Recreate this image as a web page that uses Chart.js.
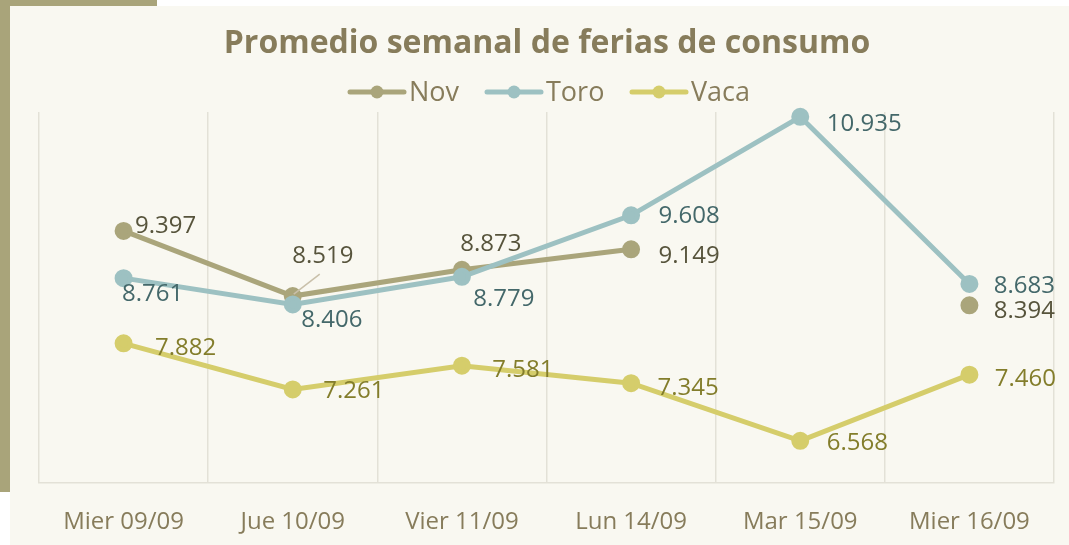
<!DOCTYPE html>
<html>
<head>
<meta charset="utf-8">
<script src="https://cdn.jsdelivr.net/npm/chart.js@4.4.0/dist/chart.umd.min.js"></script>
<style>
  html, body { margin: 0; padding: 0; background: #ffffff; }
  #wrap { position: relative; width: 1069px; height: 545px; }
</style>
</head>
<body>
<div id="wrap"><canvas id="myLineGraph" width="1069" height="545"></canvas></div>
<script>
// chart data
var categories = ["Mier 09/09", "Jue 10/09", "Vier 11/09", "Lun 14/09", "Mar 15/09", "Mier 16/09"];
var novValues  = [9.397, 8.519, 8.873, 9.149, null, 8.394];
var toroValues = [8.761, 8.406, 8.779, 9.608, 10.935, 8.683];
var vacaValues = [7.882, 7.261, 7.581, 7.345, 6.568, 7.460];
var seriesNames = ["Nov", "Toro", "Vaca"];

var lineColors  = ["#aaa57b", "#9dc1c2", "#d5cd6b"];
var labelColors = ["#57543c", "#44686a", "#837d2b"];

// label offsets (center of text relative to the point), per series
var labelOffsets = [
  [[42, -5], [30, -40], [29, -26], [58, 7], null, [55, 6]],
  [[29, 16], [39, 16], [42, 22], [58, 1], [64, 7], [55, 2]],
  [[62, 5], [61, 2], [61, 4], [57, 5], [57, 2], [56, 4]]
];

var FONT = "'Open Sans', 'DejaVu Sans', sans-serif";

// background card + olive frame
var backgroundPlugin = {
  id: "cardBackground",
  beforeDraw: function(chart) {
    var ctx = chart.ctx;
    ctx.save();
    ctx.fillStyle = "#ffffff";
    ctx.fillRect(0, 0, chart.width, chart.height);
    ctx.fillStyle = "#a9a47a";
    ctx.fillRect(0, 0, 157, 492);
    ctx.fillStyle = "#f9f8f1";
    ctx.fillRect(10, 6, chart.width - 10, chart.height - 6);
    ctx.restore();
  }
};

// title and legend drawn at the top
var headerPlugin = {
  id: "header",
  afterDraw: function(chart) {
    var ctx = chart.ctx;
    ctx.save();
    ctx.fillStyle = "#877c5b";
    ctx.font = "bold 32px " + FONT;
    ctx.textAlign = "center";
    ctx.textBaseline = "middle";
    ctx.fillText("Promedio semanal de ferias de consumo", 547, 44);

    var starts = [350, 487, 632];
    ctx.font = "27px " + FONT;
    ctx.textAlign = "left";
    for (var i = 0; i < seriesNames.length; i++) {
      var x = starts[i], y = 92;
      ctx.strokeStyle = lineColors[i];
      ctx.lineWidth = 5;
      ctx.lineCap = "round";
      ctx.beginPath();
      ctx.moveTo(x, y);
      ctx.lineTo(x + 54, y);
      ctx.stroke();
      ctx.fillStyle = lineColors[i];
      ctx.beginPath();
      ctx.arc(x + 27, y, 6.5, 0, Math.PI * 2);
      ctx.fill();
      ctx.fillStyle = "#877c5b";
      ctx.fillText(seriesNames[i], x + 59, y + 1);
    }
    ctx.restore();
  }
};

// value labels next to each point
var valueLabelPlugin = {
  id: "valueLabels",
  afterDatasetsDraw: function(chart) {
    var ctx = chart.ctx;
    ctx.save();
    ctx.font = "24px " + FONT;
    ctx.textAlign = "center";
    ctx.textBaseline = "middle";
    chart.data.datasets.forEach(function(ds, di) {
      var meta = chart.getDatasetMeta(di);
      meta.data.forEach(function(pt, i) {
        var v = ds.data[i];
        if (v === null || v === undefined) return;
        var off = labelOffsets[di][i];
        var lx = pt.x + off[0], ly = pt.y + off[1];
        if (di === 0 && i === 1) {
          // leader line
          ctx.strokeStyle = "#c9c0aa";
          ctx.lineWidth = 1.5;
          ctx.beginPath();
          ctx.moveTo(pt.x + 1, pt.y - 2);
          ctx.lineTo(pt.x + 27, pt.y - 22);
          ctx.stroke();
        }
        ctx.fillStyle = labelColors[di];
        ctx.fillText(v.toFixed(3), lx, ly);
      });
    });
    ctx.restore();
  }
};

function makeSet(idx, values, order) {
  return {
    label: seriesNames[idx],
    data: values,
    borderColor: lineColors[idx],
    backgroundColor: lineColors[idx],
    pointBackgroundColor: lineColors[idx],
    pointBorderColor: lineColors[idx],
    borderWidth: 5,
    pointRadius: 6.5,
    pointHoverRadius: 6.5,
    tension: 0,
    spanGaps: false,
    clip: false,
    order: order
  };
}

var ctx = document.getElementById("myLineGraph");
var myLineGraph = new Chart(ctx, {
  type: "line",
  data: {
    labels: categories,
    datasets: [
      makeSet(0, novValues, 3),
      makeSet(1, toroValues, 2),
      makeSet(2, vacaValues, 1)
    ]
  },
  options: {
    responsive: false,
    animation: false,
    devicePixelRatio: 1,
    layout: { padding: { left: 39, right: 15, top: 112, bottom: 0 } },
    plugins: {
      legend: { display: false },
      title: { display: false },
      tooltip: { enabled: false }
    },
    scales: {
      x: {
        offset: true,
        grid: { offset: true, color: "#e3e1d7", lineWidth: 1.5, drawTicks: false },
        border: { color: "#e3e1d7", width: 1.5 },
        ticks: { color: "#877c5b", font: { family: FONT, size: 24 }, padding: 25, maxRotation: 0 },
        afterFit: function(scale) { scale.height = 62; }
      },
      y: {
        display: false,
        min: 6,
        max: 11
      }
    }
  },
  plugins: [backgroundPlugin, headerPlugin, valueLabelPlugin]
});
</script>
</body>
</html>
